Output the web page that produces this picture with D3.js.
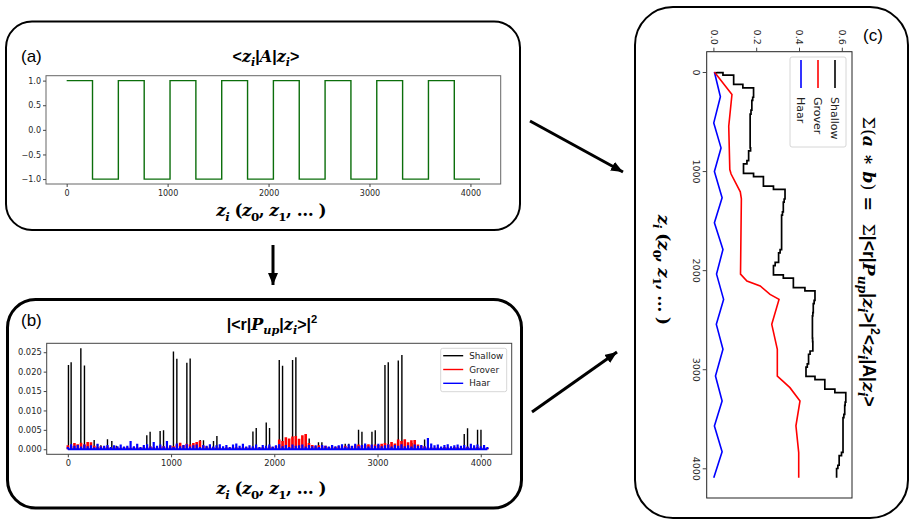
<!DOCTYPE html>
<html>
<head>
<meta charset="utf-8">
<script src="https://cdn.jsdelivr.net/npm/d3@7"></script>
<style>
body { margin: 0; background: #fff; }
svg text { font-family: "DejaVu Sans", sans-serif; white-space: pre; }
.tick text { fill: #262626; }
.tick line { stroke: #444; }
</style>
</head>
<body>
<script>
// ---- data ----
var zTicks = [0, 1000, 2000, 3000, 4000];

// (a) <z_i|A|z_i>, square wave: level starting at each edge
var aEdges  = [0, 256, 512, 768, 1024, 1280, 1536, 1792, 2048, 2304, 2560, 2816, 3072, 3328, 3584, 3840, 4095];
var aLevels = [1, -1, 1, -1, 1, -1, 1, -1, 1, -1, 1, -1, 1, -1, 1, -1, -1];

// (b) |<r|P_up|z_i>|^2
var shallowZ = [6, 32, 126, 161, 255, 287, 320, 384, 426, 470, 765, 797, 894, 927, 1023, 1056, 1153, 1185, 1282, 1314,
                1411, 1444, 1793, 1825, 1922, 1954, 2048, 2080, 2177, 2209, 2306, 2338, 2428, 2461, 2687, 2722,
                2816, 2849, 2946, 2978, 3072, 3104, 3201, 3236, 3333, 3365, 3456, 3488, 3840, 3872, 3969, 4002];
var shallowP = [0.0217, 0.0224, 0.0260, 0.0216, 0.0024, 0.0013, 0.0010, 0.0026, 0.0021, 0.0009, 0.0036, 0.0045, 0.0047, 0.0049,
                0.0252, 0.0233, 0.0223, 0.0234, 0.0024, 0.0023, 0.0021, 0.0034, 0.0046, 0.0055, 0.0069, 0.0055,
                0.0230, 0.0215, 0.0230, 0.0237, 0.0015, 0.0028, 0.0018, 0.0018, 0.0014, 0.0014,
                0.0050, 0.0045, 0.0045, 0.0049, 0.0217, 0.0224, 0.0229, 0.0243, 0.0016, 0.0015, 0.0025, 0.0026,
                0.0039, 0.0054, 0.0050, 0.0050];

var gridStep = 32;   // Grover / Haar read every 32 states
var groverP = [
  0.0010, 0.0008, 0.0016, 0.0013, 0.0017, 0.0012, 0.0019, 0.0018,
  0.0009, 0.0006, 0.0008, 0.0005, 0.0007, 0.0004, 0.0006, 0.0005,
  0.0004, 0.0006, 0.0005, 0.0004, 0.0006, 0.0005, 0.0004, 0.0006,
  0.0005, 0.0007, 0.0006, 0.0005, 0.0007, 0.0008, 0.0006, 0.0009,
  0.0008, 0.0012, 0.0017, 0.0010, 0.0014, 0.0012, 0.0016, 0.0019,
  0.0022, 0.0009, 0.0007, 0.0005, 0.0006, 0.0004, 0.0005, 0.0004,
  0.0005, 0.0004, 0.0006, 0.0005, 0.0004, 0.0006, 0.0005, 0.0004,
  0.0005, 0.0006, 0.0004, 0.0006, 0.0005, 0.0007, 0.0006, 0.0008,
  0.0025, 0.0021, 0.0031, 0.0028, 0.0033, 0.0034, 0.0027, 0.0036,
  0.0039, 0.0016, 0.0011, 0.0008, 0.0010, 0.0007, 0.0009, 0.0006,
  0.0007, 0.0006, 0.0008, 0.0007, 0.0009, 0.0006, 0.0008, 0.0010,
  0.0012, 0.0009, 0.0011, 0.0013, 0.0010, 0.0012, 0.0011, 0.0014,
  0.0016, 0.0013, 0.0019, 0.0015, 0.0025, 0.0021, 0.0026, 0.0018,
  0.0023, 0.0024, 0.0012, 0.0009, 0.0007, 0.0006, 0.0005, 0.0004,
  0.0005, 0.0004, 0.0006, 0.0005, 0.0004, 0.0006, 0.0005, 0.0004,
  0.0005, 0.0006, 0.0004, 0.0005, 0.0006, 0.0004, 0.0005, 0.0003];
var haarP = [
  0.0006, 0.0013, 0.0009, 0.0011, 0.0007, 0.0012, 0.0008, 0.0010,
  0.0005, 0.0014, 0.0007, 0.0009, 0.0011, 0.0006, 0.0010, 0.0008,
  0.0012, 0.0007, 0.0009, 0.0021, 0.0008, 0.0014, 0.0006, 0.0011,
  0.0013, 0.0007, 0.0019, 0.0009, 0.0012, 0.0008, 0.0021, 0.0010,
  0.0006, 0.0015, 0.0008, 0.0011, 0.0013, 0.0007, 0.0010, 0.0012,
  0.0006, 0.0011, 0.0009, 0.0013, 0.0007, 0.0010, 0.0013, 0.0008,
  0.0011, 0.0006, 0.0012, 0.0015, 0.0009, 0.0014, 0.0007, 0.0010,
  0.0008, 0.0012, 0.0006, 0.0011, 0.0009, 0.0012, 0.0007, 0.0010,
  0.0013, 0.0008, 0.0011, 0.0006, 0.0012, 0.0009, 0.0010, 0.0012,
  0.0007, 0.0011, 0.0008, 0.0010, 0.0006, 0.0011, 0.0009, 0.0007,
  0.0011, 0.0008, 0.0010, 0.0013, 0.0007, 0.0012, 0.0009, 0.0014,
  0.0008, 0.0011, 0.0015, 0.0007, 0.0012, 0.0009, 0.0014, 0.0008,
  0.0010, 0.0012, 0.0007, 0.0011, 0.0009, 0.0013, 0.0008, 0.0010,
  0.0007, 0.0012, 0.0009, 0.0011, 0.0008, 0.0029, 0.0015, 0.0010,
  0.0012, 0.0007, 0.0011, 0.0013, 0.0008, 0.0010, 0.0012, 0.0009,
  0.0011, 0.0007, 0.0014, 0.0010, 0.0012, 0.0008, 0.0011, 0.0006];

// (c) running sum of a*b
var shallowCumZ = [0, 6, 32, 126, 161, 255, 287, 384, 426, 765, 797, 894, 927, 1023, 1056, 1153, 1185, 1282, 1314, 1411, 1444,
                   1793, 1825, 1922, 1954, 2048, 2080, 2177, 2209, 2306, 2338, 2428, 2461, 2687, 2722, 2816, 2849, 2946, 2978,
                   3072, 3104, 3201, 3236, 3333, 3365, 3456, 3488, 3840, 3872, 3969, 4002, 4095];
var shallowCumV = [0.010, 0.040, 0.090, 0.133, 0.183, 0.179, 0.175, 0.171, 0.167, 0.169, 0.160, 0.152, 0.136, 0.183, 0.229, 0.276, 0.330, 0.326, 0.322, 0.318, 0.314,
                   0.307, 0.300, 0.284, 0.276, 0.322, 0.369, 0.423, 0.470, 0.466, 0.462, 0.460, 0.458, 0.459, 0.460, 0.447, 0.440, 0.434, 0.428,
                   0.470, 0.516, 0.563, 0.614, 0.611, 0.609, 0.605, 0.601, 0.594, 0.583, 0.577, 0.571, 0.571];
var groverCumZ = [0, 228, 548, 985, 1030, 1210, 1280, 2040, 2110, 2160, 2245, 2295, 2547, 2800, 3069, 3120, 3186, 3320, 3572, 3841, 4095];
var groverCumV = [0, 0.082, 0.067, 0.072, 0.078, 0.121, 0.126, 0.122, 0.152, 0.214, 0.260, 0.302, 0.268, 0.294, 0.294, 0.320, 0.353, 0.400, 0.381, 0.394, 0.394];
var haarCumZ = [0, 250, 514, 766, 1005, 1270, 1522, 1791, 2040, 2295, 2547, 2799, 3069, 3320, 3572, 3834, 4095];
var haarCumV = [0, 0.028, -0.003, 0.031, 0.000, 0.036, 0.000, 0.040, 0.010, 0.043, 0.009, 0.040, 0.005, 0.036, 0.000, 0.036, -0.003];

var seriesNames = ["Shallow", "Grover", "Haar"];
var seriesColors = ["#000000", "#ff0000", "#0000ff"];

// ---- helpers ----
var fonts = {
  bi: ['"DejaVu Serif", serif', 'italic', 'bold'],
  b:  ['"DejaVu Serif", serif', 'normal', 'bold'],
  sr: ['"DejaVu Serif", serif', 'normal', 'normal'],
  bs: ['"Liberation Sans", Arial, sans-serif', 'normal', 'bold'],
  s:  ['"Liberation Sans", Arial, sans-serif', 'normal', 'bold']
};
function mathText(sel, parts, x, y, size, anchor, spacing) {
  var t = sel.append('text').attr('x', x).attr('y', y)
    .attr('text-anchor', anchor || 'middle').style('font-size', size + 'px')
    .style('letter-spacing', (spacing || 0) + 'px');
  var shift = 0;
  parts.forEach(function(p) {
    var f = fonts[p[1]], target = 0, fs = size;
    if (p[2] === 'sub') { target = 0.28 * size; fs = size * 0.7; }
    if (p[2] === 'sup') { target = -0.45 * size; fs = size * 0.7; }
    t.append('tspan').text(p[0]).attr('dy', target - shift)
      .style('font-size', fs + 'px').style('font-family', f[0])
      .style('font-style', f[1]).style('font-weight', f[2]);
    shift = target;
  });
  return t;
}
var zLabel = [['z','bi'],['i','bi','sub'],[' (','b'],['z','bi'],['0','b','sub'],[',','b'],[' z','bi'],['1','b','sub'],[', … )','b']];

function frame(g, w, h, col) {
  g.append('rect').attr('width', w).attr('height', h).attr('fill', 'none').attr('stroke', col).attr('stroke-width', 1);
}
function styleAxis(g, size) {
  g.select('.domain').remove();
  g.selectAll('.tick text').style('font-size', size + 'px').style('font-family', '"DejaVu Sans", sans-serif');
}

var svg = d3.select('body').append('svg').attr('width', 912).attr('height', 525);

// ---- outer boxes and arrows ----
svg.append('rect').attr('x', 6).attr('y', 21.5).attr('width', 514).attr('height', 208.5).attr('rx', 26)
  .attr('fill', 'none').attr('stroke', '#000').attr('stroke-width', 2);
svg.append('rect').attr('x', 7.5).attr('y', 299.5).attr('width', 514).attr('height', 208.5).attr('rx', 28)
  .attr('fill', 'none').attr('stroke', '#000').attr('stroke-width', 3);
svg.append('rect').attr('x', 635).attr('y', 7).attr('width', 273).attr('height', 511).attr('rx', 38)
  .attr('fill', 'none').attr('stroke', '#000').attr('stroke-width', 2);

svg.append('defs').append('marker').attr('id', 'head')
  .attr('viewBox', '0 0 12 10').attr('refX', 12).attr('refY', 5)
  .attr('markerWidth', 12).attr('markerHeight', 10).attr('markerUnits', 'userSpaceOnUse')
  .attr('orient', 'auto')
  .append('path').attr('d', 'M0,0L12,5L0,10Z').attr('fill', '#000');
[[530, 121, 623, 172], [532, 412, 617, 352], [273, 245, 273, 285]].forEach(function(a) {
  svg.append('line').attr('x1', a[0]).attr('y1', a[1]).attr('x2', a[2]).attr('y2', a[3])
    .attr('stroke', '#000').attr('stroke-width', 3).attr('marker-end', 'url(#head)');
});

svg.append('text').attr('x', 21).attr('y', 62).text('(a)').style('font-size', '17px').style('font-family', '"Liberation Sans", Arial, sans-serif');
svg.append('text').attr('x', 21).attr('y', 326).text('(b)').style('font-size', '17px').style('font-family', '"Liberation Sans", Arial, sans-serif');
svg.append('text').attr('x', 863).attr('y', 41).text('(c)').style('font-size', '17px').style('font-family', '"Liberation Sans", Arial, sans-serif');

// ---- panel (a) ----
var aw = 454.7, ah = 108.3;
var ga = svg.append('g').attr('transform', 'translate(46,75.7)');
var xa = d3.scaleLinear().domain([-204.75, 4299.75]).range([0, aw]);
var ya = d3.scaleLinear().domain([-1.1, 1.1]).range([ah, 0]);
ga.append('path').datum(d3.zip(aEdges, aLevels))
  .attr('d', d3.line().x(function(d) { return xa(d[0]); }).y(function(d) { return ya(d[1]); }).curve(d3.curveStepAfter))
  .attr('fill', 'none').attr('stroke', '#0b6e0b').attr('stroke-width', 1.4);
frame(ga, aw, ah, '#666');
ga.append('g').attr('transform', 'translate(0,' + ah + ')')
  .call(d3.axisBottom(xa).tickValues(zTicks).tickFormat(d3.format('d')).tickSize(3).tickPadding(3))
  .call(styleAxis, 8);
ga.append('g')
  .call(d3.axisLeft(ya).tickValues([-1, -0.5, 0, 0.5, 1]).tickFormat(d3.format('.1f')).tickSize(3).tickPadding(2))
  .call(styleAxis, 8);
mathText(svg, [['<','bs'],['z','bi'],['i','bi','sub'],['|','bs'],['A','bi'],['|','bs'],['z','bi'],['i','bi','sub'],['>','bs']], 266, 62, 16);
mathText(svg, zLabel, 271, 216, 17, 'middle', -0.6);

// ---- panel (b) ----
var bw = 465, bh = 111;
var gb = svg.append('g').attr('transform', 'translate(46.7,343.3)');
var xb = d3.scaleLinear().domain([-204.75, 4299.75]).range([0, bw]);
var yb = d3.scaleLinear().domain([-0.0013, 0.0273]).range([bh, 0]);
var gridZ = d3.range(groverP.length).map(function(i) { return i * gridStep; });
function spikes(zs, ps) {
  return zs.map(function(z, i) { return 'M' + xb(z) + ',' + yb(0) + 'V' + yb(ps[i]); }).join('');
}
gb.append('path').attr('d', spikes(shallowZ, shallowP)).attr('stroke', seriesColors[0]).attr('stroke-width', 1.4).attr('fill', 'none');
gb.append('path').attr('d', spikes(gridZ, groverP)).attr('stroke', seriesColors[1]).attr('stroke-width', 2.6).attr('fill', 'none');
gb.append('path').attr('d', spikes(gridZ, haarP)).attr('stroke', seriesColors[2]).attr('stroke-width', 2.2).attr('fill', 'none');
gb.append('path').datum(d3.extent(gridZ))
  .attr('d', function(e) { return 'M' + xb(e[0]) + ',' + yb(0) + 'H' + xb(e[1]); })
  .attr('stroke', seriesColors[2]).attr('stroke-width', 2).attr('fill', 'none');
frame(gb, bw, bh, '#444');
gb.append('g').attr('transform', 'translate(0,' + bh + ')')
  .call(d3.axisBottom(xb).tickValues(zTicks).tickFormat(d3.format('d')).tickSize(3).tickPadding(3))
  .call(styleAxis, 8.3);
gb.append('g')
  .call(d3.axisLeft(yb).tickValues([0, 0.005, 0.01, 0.015, 0.02, 0.025]).tickFormat(d3.format('.3f')).tickSize(3).tickPadding(2))
  .call(styleAxis, 8.3);
var lb = gb.append('g').attr('transform', 'translate(394,5)');
lb.append('rect').attr('width', 66).attr('height', 43.4).attr('rx', 2)
  .attr('fill', '#fff').attr('fill-opacity', 0.85).attr('stroke', '#ccc').attr('stroke-width', 0.8);
seriesNames.forEach(function(n, i) {
  var yy = 7.4 + i * 13.8;
  lb.append('line').attr('x1', 2.5).attr('x2', 22.5).attr('y1', yy).attr('y2', yy).attr('stroke', seriesColors[i]).attr('stroke-width', 1.4);
  lb.append('text').attr('x', 28.5).attr('y', yy).attr('dy', '0.35em').text(n).style('font-size', '8.8px').style('fill', '#222');
});
mathText(svg, [['|<','bs'],['r','s'],['|','bs'],['P','bi'],['up','bi','sub'],['|','bs'],['z','bi'],['i','bi','sub'],['>|','bs'],['2','bs','sup']], 272, 330, 16);
mathText(svg, zLabel, 271, 494, 17, 'middle', -0.6);

// ---- panel (c), drawn upright and turned a quarter clockwise ----
var cw = 446.3, ch = 145.3;
var gc = svg.append('g').attr('transform', 'translate(852,51.7) rotate(90)');
var xc = d3.scaleLinear().domain([-204.75, 4299.75]).range([0, cw]);
var yc = d3.scaleLinear().domain([-0.036, 0.643]).range([ch, 0]);
var lineC = d3.line().x(function(d) { return xc(d[0]); }).y(function(d) { return yc(d[1]); });
gc.append('path').datum(d3.zip(haarCumZ, haarCumV)).attr('d', lineC)
  .attr('fill', 'none').attr('stroke', seriesColors[2]).attr('stroke-width', 1.6);
gc.append('path').datum(d3.zip(groverCumZ, groverCumV)).attr('d', lineC)
  .attr('fill', 'none').attr('stroke', seriesColors[1]).attr('stroke-width', 1.6);
gc.append('path').datum(d3.zip(shallowCumZ, shallowCumV)).attr('d', lineC.curve(d3.curveStepAfter))
  .attr('fill', 'none').attr('stroke', seriesColors[0]).attr('stroke-width', 1.7);
frame(gc, cw, ch, '#222');
gc.append('g').attr('transform', 'translate(0,' + ch + ')')
  .call(d3.axisBottom(xc).tickValues(zTicks).tickFormat(d3.format('d')).tickSize(4).tickPadding(3))
  .call(styleAxis, 9.5);
gc.append('g')
  .call(d3.axisLeft(yc).tickValues([0, 0.2, 0.4, 0.6]).tickFormat(d3.format('.1f')).tickSize(4).tickPadding(3))
  .call(styleAxis, 9.5);
var lc = gc.append('g').attr('transform', 'translate(5.3,6)');
lc.append('rect').attr('width', 90).attr('height', 56).attr('rx', 2)
  .attr('fill', '#fff').attr('fill-opacity', 0.85).attr('stroke', '#ccc').attr('stroke-width', 0.8);
seriesNames.forEach(function(n, i) {
  var yy = 11 + i * 17;
  lc.append('line').attr('x1', 3).attr('x2', 31).attr('y1', yy).attr('y2', yy).attr('stroke', seriesColors[i]).attr('stroke-width', 1.6);
  lc.append('text').attr('x', 40).attr('y', yy).attr('dy', '0.35em').text(n).style('font-size', '11px').style('fill', '#222');
});
mathText(gc, [['Σ','sr'],['(','sr'],['a','bi'],[' ∗ ','b'],['b','bi'],[')','sr'],[' =  ','b'],['Σ','sr'],['|<','bs'],['r','s'],['|','bs'],
  ['P','bi'],['up','bi','sub'],['|','bs'],['z','bi'],['i','bi','sub'],['>|','bs'],['2','bs','sup'],['<','bs'],['z','bi'],['i','bi','sub'],
  ['|A|','bs'],['z','bi'],['i','bi','sub'],['>','bs']], 210, -11, 17.5);
mathText(gc, zLabel, 218, 194, 17, 'middle', -0.6);
</script>
</body>
</html>
